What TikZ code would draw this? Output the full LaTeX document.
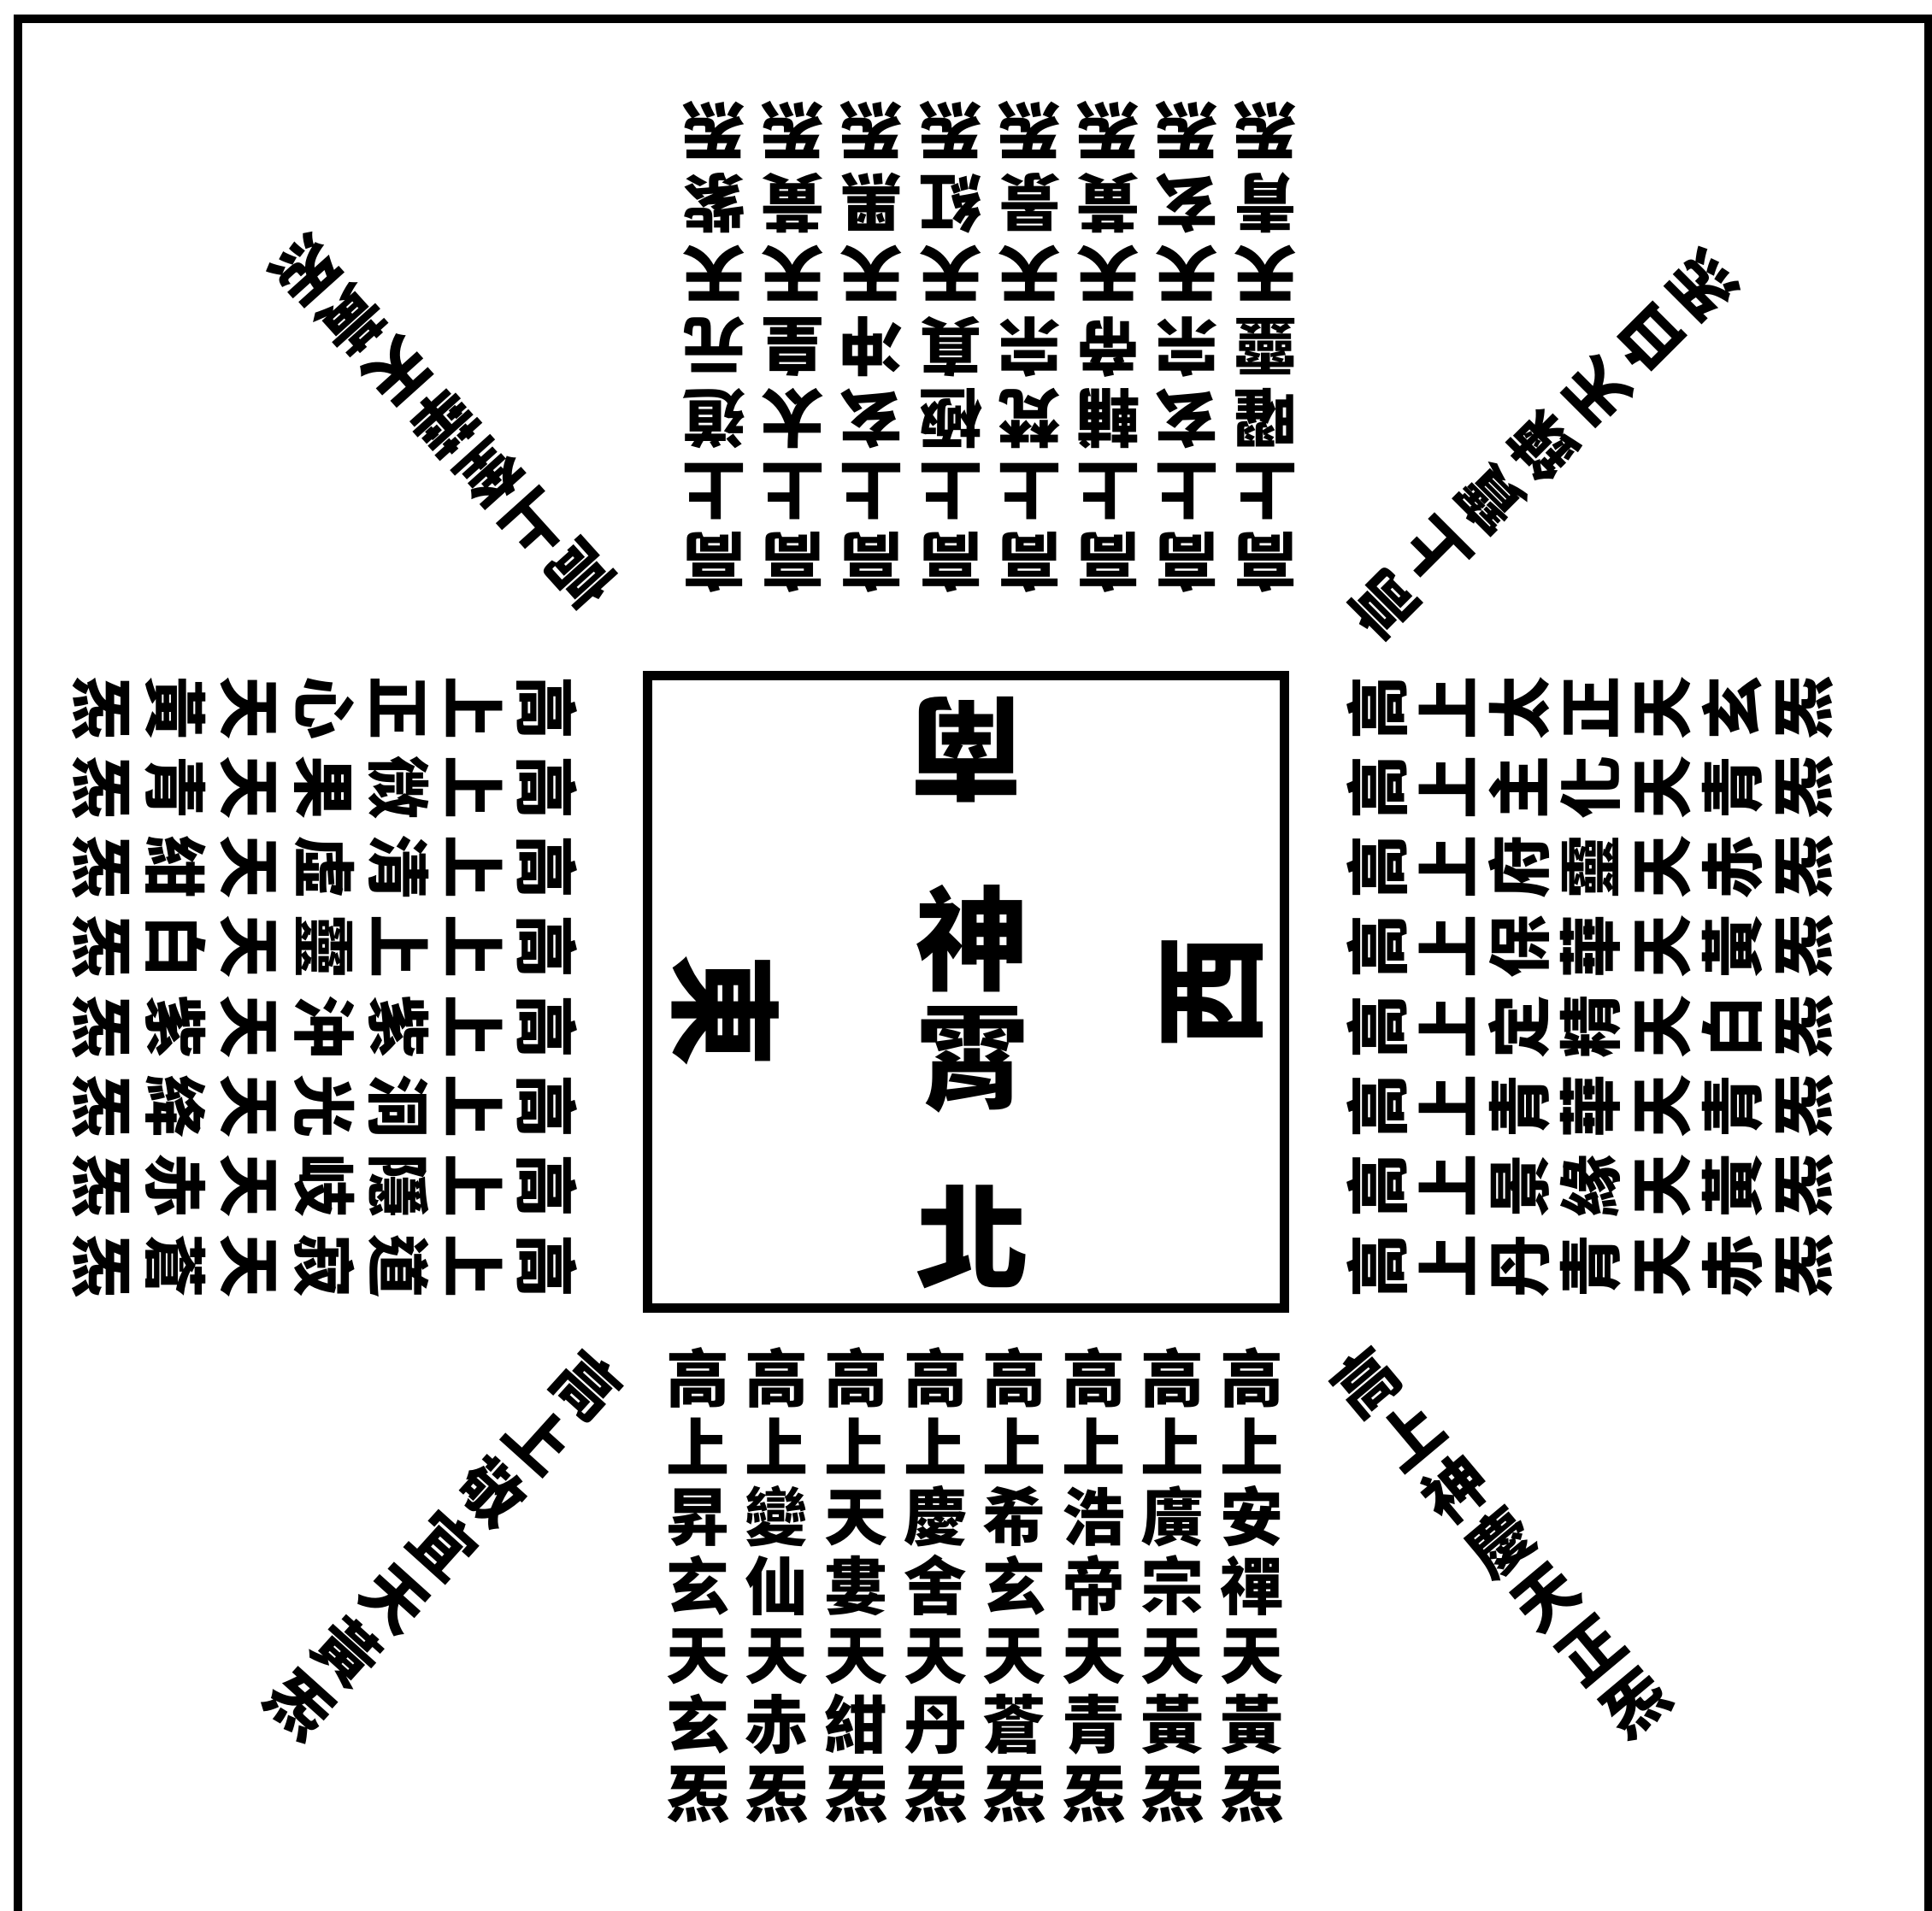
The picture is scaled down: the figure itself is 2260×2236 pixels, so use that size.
\documentclass[tikz,border=0pt]{standalone}
\usepackage{fontspec}
\newfontfamily\cjk{Noto Sans CJK TC}
\tikzset{
  colstyle/.style={font=\cjk\bfseries\fontsize{18.5pt}{#1}\selectfont, inner sep=0pt, align=center},
  bigch/.style={font=\cjk\bfseries\fontsize{33pt}{33pt}\selectfont, inner sep=0pt},
  framestyle/.style={line width=2.5pt},
  squarestyle/.style={draw, line width=2.75pt, inner sep=0pt, minimum width=186.25pt, minimum height=185pt}
}
% #1 name, #2 x, #3 y (centre of the 4th character), #4 line pitch, #5 rotation, #6 text
\newcommand\colnode[6]{%
  \node[colstyle=#4, rotate=#5] (#1) at (#2,#3) {#6};%
}
\begin{document}
\begin{tikzpicture}[x=0.25pt, y=-0.25pt]
\useasboundingbox (0,0) rectangle (2260,2236);
\fill[white] (0,0) rectangle (2260,2236);
% outer frame (bottom side lies outside the picture)
\draw[framestyle] (21,2300) -- (21,22) -- (2256,22) -- (2256,2300);
% central square
\node[squarestyle] (sq) at (1129.5,1160) {};
\node[bigch, rotate=180] (nan) at (1130,877) {南};
\node[bigch] (shen) at (1137,1098) {神};
\node[bigch] (xiao) at (1137,1240) {霄};
\node[bigch] (bei) at (1137,1447) {北};
\node[bigch, rotate=-90] (dong) at (849,1182) {東};
\node[bigch, rotate=90] (xi) at (1418,1160) {西};
% bottom block
\colnode{B0}{816}{1855}{20.25pt}{0}{高\\上\\昇\\玄\\天\\玄\\炁}
\colnode{B1}{908.6}{1855}{20.25pt}{0}{高\\上\\變\\仙\\天\\赤\\炁}
\colnode{B2}{1001}{1855}{20.25pt}{0}{高\\上\\天\\婁\\天\\紺\\炁}
\colnode{B3}{1094}{1855}{20.25pt}{0}{高\\上\\慶\\舍\\天\\丹\\炁}
\colnode{B4}{1186}{1855}{20.25pt}{0}{高\\上\\希\\玄\\天\\蒼\\炁}
\colnode{B5}{1279}{1855}{20.25pt}{0}{高\\上\\浩\\帝\\天\\青\\炁}
\colnode{B6}{1371}{1855}{20.25pt}{0}{高\\上\\廣\\宗\\天\\黃\\炁}
\colnode{B7}{1464}{1855}{20.25pt}{0}{高\\上\\安\\禪\\天\\黃\\炁}
% top block
\colnode{T0}{835}{406}{21pt}{180}{高\\上\\道\\元\\天\\紫\\炁}
\colnode{T1}{927}{406}{21pt}{180}{高\\上\\太\\皇\\天\\黃\\炁}
\colnode{T2}{1019}{406}{21pt}{180}{高\\上\\玄\\冲\\天\\黑\\炁}
\colnode{T3}{1112}{406}{21pt}{180}{高\\上\\極\\真\\天\\紅\\炁}
\colnode{T4}{1204}{406}{21pt}{180}{高\\上\\梵\\宗\\天\\景\\炁}
\colnode{T5}{1296}{406}{21pt}{180}{高\\上\\輔\\帝\\天\\黃\\炁}
\colnode{T6}{1388}{406}{21pt}{180}{高\\上\\玄\\宗\\天\\玄\\炁}
\colnode{T7}{1480}{406}{21pt}{180}{高\\上\\曜\\靈\\天\\青\\炁}
% left block
\colnode{L0}{380}{828}{21.7pt}{-90}{高\\上\\正\\心\\天\\黃\\炁}
\colnode{L1}{380}{921.3}{21.7pt}{-90}{高\\上\\微\\果\\天\\青\\炁}
\colnode{L2}{380}{1014.6}{21.7pt}{-90}{高\\上\\清\\虛\\天\\紺\\炁}
\colnode{L3}{380}{1107.9}{21.7pt}{-90}{高\\上\\上\\靈\\天\\白\\炁}
\colnode{L4}{380}{1201.2}{21.7pt}{-90}{高\\上\\紫\\沖\\天\\紫\\炁}
\colnode{L5}{380}{1294.5}{21.7pt}{-90}{高\\上\\洞\\光\\天\\絳\\炁}
\colnode{L6}{380}{1387.8}{21.7pt}{-90}{高\\上\\隱\\岐\\天\\赤\\炁}
\colnode{L7}{380}{1481}{21.7pt}{-90}{高\\上\\道\\寂\\天\\蒼\\炁}
% right block
\colnode{R0}{1860}{828}{20.75pt}{90}{高\\上\\太\\正\\天\\玄\\炁}
\colnode{R1}{1860}{921.3}{20.75pt}{90}{高\\上\\主\\化\\天\\青\\炁}
\colnode{R2}{1860}{1014.6}{20.75pt}{90}{高\\上\\府\\靈\\天\\赤\\炁}
\colnode{R3}{1860}{1107.9}{20.75pt}{90}{高\\上\\保\\華\\天\\黃\\炁}
\colnode{R4}{1860}{1201.2}{20.75pt}{90}{高\\上\\定\\精\\天\\白\\炁}
\colnode{R5}{1860}{1294.5}{20.75pt}{90}{高\\上\\青\\華\\天\\青\\炁}
\colnode{R6}{1860}{1387.8}{20.75pt}{90}{高\\上\\景\\緣\\天\\黃\\炁}
\colnode{R7}{1860}{1481}{20.75pt}{90}{高\\上\\丹\\青\\天\\赤\\炁}
% diagonals
\colnode{TL}{519.5}{494.5}{20pt}{-138}{高\\上\\奎\\華\\天\\黃\\炁}
\colnode{TR}{1805}{522}{22pt}{135}{高\\上\\寶\\鍊\\天\\白\\炁}
\colnode{BL}{519}{1808}{20.9pt}{-42}{高\\上\\敬\\宜\\天\\黃\\炁}
\colnode{BR}{1755}{1805}{20.45pt}{40}{高\\上\\神\\慶\\天\\正\\炁}
\end{tikzpicture}
\end{document}
